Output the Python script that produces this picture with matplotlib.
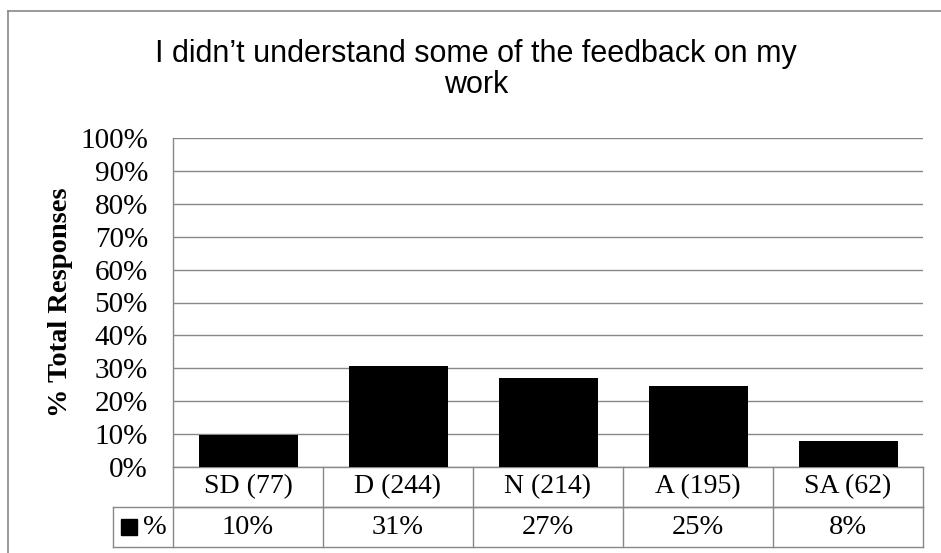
import matplotlib.pyplot as plt
from matplotlib.lines import Line2D

# survey data
categories = ["SD (77)", "D (244)", "N (214)", "A (195)", "SA (62)"]
percent = [9.7, 30.8, 27.0, 24.6, 7.8]
yticks = [0, 10, 20, 30, 40, 50, 60, 70, 80, 90, 100]
title_lines = ["I didn\u2019t understand some of the feedback on my", "work"]

grey = "#888888"
serif = "Liberation Serif"

fig = plt.figure(figsize=(9.41, 5.53), dpi=100)
W, H = 941, 553
ax = fig.add_axes([173 / W, (H - 467) / H, (923 - 173) / W, (467 - 138) / H])

x = list(range(len(categories)))
ax.bar(x, percent, width=0.66, color="black", zorder=3)

ax.set_xlim(-0.5, len(categories) - 0.5)
ax.set_ylim(0, 100)
ax.set_yticks(yticks)
ax.set_yticklabels([f"{t}%" for t in yticks], fontfamily=serif, fontsize=21)
ax.set_xticks([])
ax.tick_params(axis="y", length=0, pad=18)
ax.grid(axis="y", color=grey, linewidth=1.0, zorder=0)
for s in ["top", "right", "bottom"]:
    ax.spines[s].set_visible(False)
ax.spines["left"].set_color(grey)
ax.spines["left"].set_linewidth(1.0)

ax.set_ylabel("% Total Responses", fontfamily=serif, fontsize=20.5,
              fontweight="bold", labelpad=5)

# data table below the plot
tr = ax.get_xaxis_transform()
rh = 40 / (467 - 138)
n = len(categories)
lk = dict(color=grey, linewidth=1.0, transform=tr, clip_on=False)
ax.add_line(Line2D([-0.5, n - 0.5], [0, 0], **lk))
ax.add_line(Line2D([-0.5, n - 0.5], [-rh, -rh], **lk))
ax.add_line(Line2D([-0.9, n - 0.5], [-rh, -rh], **lk))
ax.add_line(Line2D([-0.9, n - 0.5], [-2 * rh, -2 * rh], **lk))
ax.add_line(Line2D([-0.9, -0.9], [-rh, -2 * rh], **lk))
for i in range(n + 1):
    ax.add_line(Line2D([i - 0.5, i - 0.5], [0, -2 * rh], **lk))

for i, (c, p) in enumerate(zip(categories, percent)):
    ax.text(i, -rh / 2, c, transform=tr, ha="center", va="center",
            fontfamily=serif, fontsize=20)
    ax.text(i, -1.5 * rh, f"{p:.0f}%", transform=tr, ha="center", va="center",
            fontfamily=serif, fontsize=20.5)

ax.plot([-0.79], [-1.5 * rh], marker="s", markersize=11, color="black",
        transform=tr, clip_on=False)
ax.text(-0.7, -1.5 * rh, "%", transform=tr, ha="left", va="center",
        fontfamily=serif, fontsize=20.5)

# title, two lines as in the original
for k, line in enumerate(title_lines):
    fig.text(476 / W, 1 - (62 + 31 * k) / H, line, ha="center", va="baseline",
             fontfamily="Liberation Sans", fontsize=22)

# chart-area border (left and top edges visible)
fig.add_artist(Line2D([8 / W, 8 / W], [0, 1 - 11 / H], color=grey,
                      linewidth=1.2, transform=fig.transFigure))
fig.add_artist(Line2D([8 / W, 1], [1 - 11 / H, 1 - 11 / H], color=grey,
                      linewidth=1.2, transform=fig.transFigure))

fig.savefig("out.png", dpi=100)
